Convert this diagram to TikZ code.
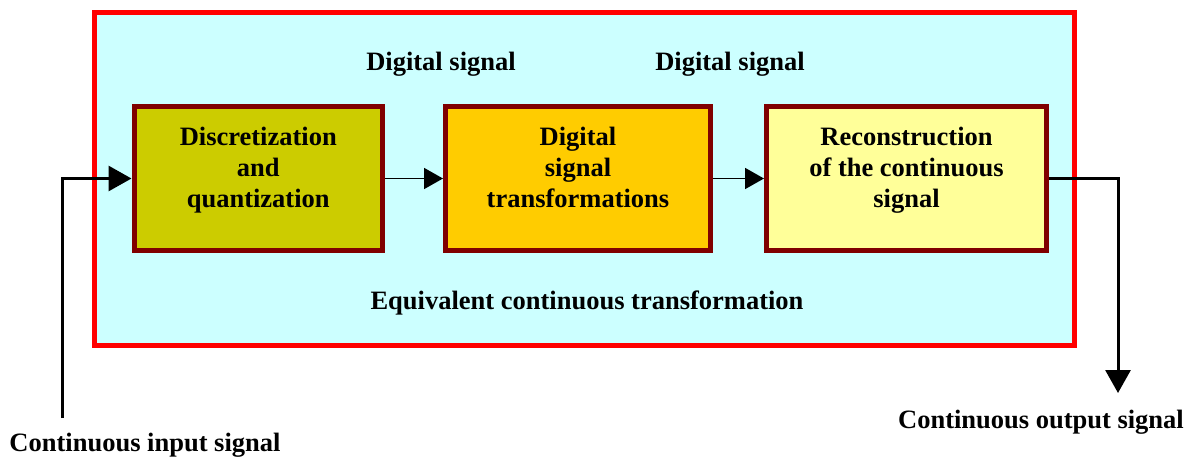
\documentclass[tikz,border=0pt]{standalone}
\usepackage{fontspec}
\setmainfont{Liberation Serif}
\usetikzlibrary{arrows.meta}
\definecolor{bgcyan}{HTML}{CCFFFF}
\definecolor{frame}{HTML}{FF0000}
\definecolor{boxborder}{HTML}{800000}
\definecolor{fillA}{HTML}{CCCC00}
\definecolor{fillB}{HTML}{FFCC00}
\definecolor{fillC}{HTML}{FFFF99}
\tikzset{
  lbl/.style={font=\fontsize{26.5pt}{31pt}\selectfont\bfseries, align=center, inner sep=0pt},
  blockbox/.style={draw=boxborder, line width=5pt, minimum height=144pt, inner sep=0pt},
  thickconn/.style={line width=3pt, -{Triangle[length=23pt,width=25pt]}},
  thinconn/.style={line width=1.7pt, -{Triangle[length=19pt,width=21pt]}},
}
\begin{document}
\begin{tikzpicture}[x=1pt,y=-1pt]
\useasboundingbox (0,0) rectangle (1197,466);
% outer frame
\draw[draw=frame, fill=bgcyan, line width=5pt] (94.5,12) rectangle (1074.5,345.5);
% blocks
\node[blockbox, fill=fillA, minimum width=248.5pt] (b1) at (258.25,178.5) {};
\node[blockbox, fill=fillB, minimum width=265pt] (b2) at (578,178.5) {};
\node[blockbox, fill=fillC, minimum width=280pt] (b3) at (906.5,178.5) {};
\node[lbl] (t1) at (258.25,170) {Discretization\\and\\quantization};
\node[lbl] (t2) at (578,167.5) {Digital\\signal\\transformations};
\node[lbl] (t3) at (906.5,170.5) {Reconstruction\\of the continuous\\signal};
% labels
\node[lbl] (d1) at (441,64.5) {Digital signal};
\node[lbl] (d2) at (730,64.5) {Digital signal};
\node[lbl] (eq) at (587,302.5) {Equivalent continuous transformation};
\node[lbl] (inl) at (145,445.5) {Continuous input signal};
\node[lbl] (outl) at (1041,422.5) {Continuous output signal};
% connectors
\coordinate (inStart) at (62,418);
\coordinate (outEnd) at (1118,393);
\draw[thickconn] (inStart) |- (b1.west);
\draw[thinconn] (b1.east) -- (b2.west);
\draw[thinconn] (b2.east) -- (b3.west);
\draw[thickconn] (b3.east) -| (outEnd);
\end{tikzpicture}
\end{document}
